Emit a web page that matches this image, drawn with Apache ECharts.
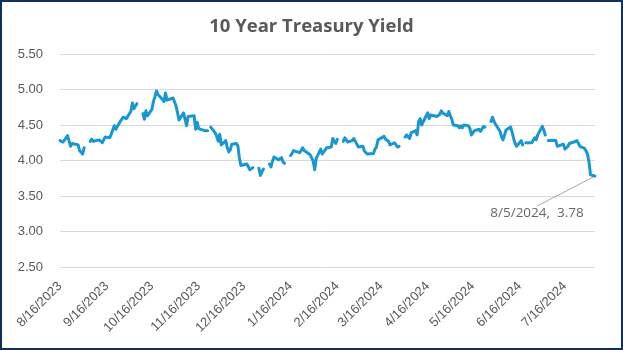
<!DOCTYPE html>
<html>
<head>
<meta charset="utf-8">
<script src="https://cdn.jsdelivr.net/npm/echarts@6/dist/echarts.min.js"></script>
<style>
  html, body { margin: 0; padding: 0; background: #ffffff; }
  #wrap { position: relative; width: 623px; height: 350px; }
  #chart { position: absolute; left: 0; top: 0; width: 623px; height: 350px; }
  #frame { position: absolute; left: 0; top: 0; width: 623px; height: 350px;
           box-sizing: border-box; border: 2px solid #112f5e; pointer-events: none; }
</style>
</head>
<body>
<div id="wrap"><div id="chart"></div><div id="frame"></div></div>
<script>
// Trading days (weekdays); market holidays carry a null yield so the line breaks there.
const tradeDates = [
  '2023-08-16','2023-08-17','2023-08-18','2023-08-21','2023-08-22','2023-08-23','2023-08-24','2023-08-25',
  '2023-08-28','2023-08-29','2023-08-30','2023-08-31','2023-09-01',
  '2023-09-04','2023-09-05','2023-09-06','2023-09-07','2023-09-08','2023-09-11','2023-09-12','2023-09-13',
  '2023-09-14','2023-09-15','2023-09-18','2023-09-19','2023-09-20','2023-09-21','2023-09-22','2023-09-25',
  '2023-09-26','2023-09-27','2023-09-28','2023-09-29',
  '2023-10-02','2023-10-03','2023-10-04','2023-10-05','2023-10-06','2023-10-09','2023-10-10','2023-10-11',
  '2023-10-12','2023-10-13','2023-10-16','2023-10-17','2023-10-18','2023-10-19','2023-10-20','2023-10-23',
  '2023-10-24','2023-10-25','2023-10-26','2023-10-27','2023-10-30','2023-10-31',
  '2023-11-01','2023-11-02','2023-11-03','2023-11-06','2023-11-07','2023-11-08','2023-11-09','2023-11-10',
  '2023-11-13','2023-11-14','2023-11-15','2023-11-16','2023-11-17','2023-11-20','2023-11-21','2023-11-22',
  '2023-11-23','2023-11-24','2023-11-27','2023-11-28','2023-11-29','2023-11-30',
  '2023-12-01','2023-12-04','2023-12-05','2023-12-06','2023-12-07','2023-12-08','2023-12-11','2023-12-12',
  '2023-12-13','2023-12-14','2023-12-15','2023-12-18','2023-12-19','2023-12-20','2023-12-21','2023-12-22',
  '2023-12-25','2023-12-26','2023-12-27','2023-12-28','2023-12-29',
  '2024-01-01','2024-01-02','2024-01-03','2024-01-04','2024-01-05','2024-01-08','2024-01-09','2024-01-10',
  '2024-01-11','2024-01-12','2024-01-15','2024-01-16','2024-01-17','2024-01-18','2024-01-19','2024-01-22',
  '2024-01-23','2024-01-24','2024-01-25','2024-01-26','2024-01-29','2024-01-30','2024-01-31',
  '2024-02-01','2024-02-02','2024-02-05','2024-02-06','2024-02-07','2024-02-08','2024-02-09','2024-02-12',
  '2024-02-13','2024-02-14','2024-02-15','2024-02-16','2024-02-19','2024-02-20','2024-02-21','2024-02-22',
  '2024-02-23','2024-02-26','2024-02-27','2024-02-28','2024-02-29',
  '2024-03-01','2024-03-04','2024-03-05','2024-03-06','2024-03-07','2024-03-08','2024-03-11','2024-03-12',
  '2024-03-13','2024-03-14','2024-03-15','2024-03-18','2024-03-19','2024-03-20','2024-03-21','2024-03-22',
  '2024-03-25','2024-03-26','2024-03-27','2024-03-28','2024-03-29',
  '2024-04-01','2024-04-02','2024-04-03','2024-04-04','2024-04-05','2024-04-08','2024-04-09','2024-04-10',
  '2024-04-11','2024-04-12','2024-04-15','2024-04-16','2024-04-17','2024-04-18','2024-04-19','2024-04-22',
  '2024-04-23','2024-04-24','2024-04-25','2024-04-26','2024-04-29','2024-04-30',
  '2024-05-01','2024-05-02','2024-05-03','2024-05-06','2024-05-07','2024-05-08','2024-05-09','2024-05-10',
  '2024-05-13','2024-05-14','2024-05-15','2024-05-16','2024-05-17','2024-05-20','2024-05-21','2024-05-22',
  '2024-05-23','2024-05-24','2024-05-27','2024-05-28','2024-05-29','2024-05-30','2024-05-31',
  '2024-06-03','2024-06-04','2024-06-05','2024-06-06','2024-06-07','2024-06-10','2024-06-11','2024-06-12',
  '2024-06-13','2024-06-14','2024-06-17','2024-06-18','2024-06-19','2024-06-20','2024-06-21','2024-06-24',
  '2024-06-25','2024-06-26','2024-06-27','2024-06-28',
  '2024-07-01','2024-07-02','2024-07-03','2024-07-04','2024-07-05','2024-07-08','2024-07-09','2024-07-10',
  '2024-07-11','2024-07-12','2024-07-15','2024-07-16','2024-07-17','2024-07-18','2024-07-19','2024-07-22',
  '2024-07-23','2024-07-24','2024-07-25','2024-07-26','2024-07-29','2024-07-30','2024-07-31',
  '2024-08-01','2024-08-02','2024-08-05'
];

// 10-year yield, percent (same order as tradeDates).
const yields = [
  4.28,4.30,4.26,4.35,4.33,4.20,4.24,4.25,
  4.22,4.14,4.12,4.09,4.18,
  null,4.27,4.30,4.27,4.26,4.29,4.28,4.25,
  4.29,4.33,4.32,4.37,4.35,4.49,4.44,4.55,
  4.56,4.61,4.59,4.59,
  4.69,4.81,4.73,4.72,4.80,null,4.66,4.58,
  4.70,4.63,4.72,4.83,4.90,4.98,4.93,4.86,
  4.83,4.95,4.85,4.84,4.88,4.88,
  4.77,4.67,4.57,4.67,4.58,4.49,4.62,4.61,
  4.63,4.44,4.54,4.45,4.44,4.42,4.41,4.42,
  null,4.47,4.39,4.34,4.27,4.37,
  4.22,4.28,4.18,4.12,4.15,4.23,4.24,4.21,
  4.04,3.93,3.91,3.95,3.93,3.87,3.89,3.90,
  null,3.89,3.79,3.84,3.88,
  null,3.95,3.91,3.99,4.05,4.01,4.02,4.04,
  3.98,3.96,null,4.07,4.10,4.14,4.15,4.11,
  4.14,4.18,4.14,4.15,4.08,4.06,3.99,
  3.87,4.03,4.16,4.09,4.12,4.15,4.18,4.19,
  4.31,4.27,4.24,4.30,null,4.27,4.32,4.33,
  4.26,4.28,4.31,4.27,4.25,
  4.19,4.20,4.13,4.11,4.09,4.09,4.10,4.16,
  4.19,4.29,4.31,4.34,4.30,4.28,4.27,4.22,
  4.25,4.24,4.19,4.20,null,
  4.33,4.36,4.36,4.31,4.39,4.42,4.36,4.55,
  4.59,4.50,4.63,4.67,4.59,4.64,4.62,4.62,
  4.60,4.65,4.70,4.67,4.63,4.69,
  4.63,4.58,4.50,4.49,4.46,4.49,4.46,4.50,
  4.49,4.45,4.36,4.38,4.42,4.44,4.41,4.43,
  4.48,4.47,null,4.55,4.61,4.55,4.51,
  4.41,4.33,4.29,4.29,4.43,4.47,4.40,4.31,
  4.24,4.20,4.28,4.22,null,4.25,4.26,4.25,
  4.23,4.32,4.29,4.36,
  4.48,4.43,4.36,null,4.28,4.28,4.30,4.28,
  4.20,4.20,4.23,4.16,4.16,4.20,4.24,4.26,
  4.25,4.28,4.26,4.20,4.17,4.14,4.09,
  3.98,3.80,3.78
];

// Monthly date ticks along the bottom axis.
const tickDates = [
  '2023-08-16','2023-09-16','2023-10-16','2023-11-16','2023-12-16','2024-01-16',
  '2024-02-16','2024-03-16','2024-04-16','2024-05-16','2024-06-16','2024-07-16'
];

// Value axis ticks.
const yTickValues = [2.5, 3.0, 3.5, 4.0, 4.5, 5.0, 5.5];

const chartTitle = '10 Year Treasury Yield';

function toTime(s) {
  const p = s.split('-').map(Number);
  return new Date(p[0], p[1] - 1, p[2]).getTime();
}
function fmtDate(t) {
  const d = new Date(t);
  return (d.getMonth() + 1) + '/' + d.getDate() + '/' + d.getFullYear();
}

const times = tradeDates.map(toTime);
const lineData = times.map((t, i) => [t, yields[i] == null ? '-' : yields[i]]);

let lastIdx = yields.length - 1;
while (lastIdx > 0 && yields[lastIdx] == null) lastIdx--;
const lastPoint = [times[lastIdx], yields[lastIdx]];

const AXIS_FONT = 'Liberation Sans, Arial, sans-serif';
const TEXT_FONT = 'Open Sans, Liberation Sans, sans-serif';

const chart = echarts.init(document.getElementById('chart'), null, { renderer: 'canvas' });
chart.setOption({
  animation: false,
  backgroundColor: '#ffffff',
  title: {
    text: chartTitle,
    left: 'center',
    top: 12,
    textStyle: { fontFamily: TEXT_FONT, fontSize: 18.5, fontWeight: 'bold', color: '#595959' }
  },
  grid: { left: 60, right: 28, top: 54, bottom: 83 },
  xAxis: {
    type: 'value',
    min: times[0],
    max: times[times.length - 1],
    axisLine: { show: false },
    axisTick: { show: false },
    splitLine: { show: false },
    axisLabel: {
      customValues: tickDates.map(toTime),
      formatter: (v) => fmtDate(v),
      rotate: 45,
      margin: 17,
      fontFamily: AXIS_FONT,
      fontSize: 13,
      color: '#595959',
      hideOverlap: false
    }
  },
  yAxis: {
    type: 'value',
    min: yTickValues[0],
    max: yTickValues[yTickValues.length - 1],
    interval: yTickValues[1] - yTickValues[0],
    axisLine: { show: false },
    axisTick: { show: false },
    splitLine: { lineStyle: { color: '#d9d9d9', width: 1 } },
    axisLabel: {
      formatter: (v) => v.toFixed(2),
      margin: 17,
      fontFamily: AXIS_FONT,
      fontSize: 13,
      color: '#595959'
    }
  },
  series: [
    {
      name: '10Y',
      type: 'line',
      data: lineData,
      showSymbol: false,
      symbol: 'none',
      connectNulls: false,
      lineStyle: { color: '#1897d1', width: 3, join: 'round', cap: 'round' },
      z: 3
    },
    {
      name: 'last',
      type: 'scatter',
      data: [lastPoint],
      symbolSize: 2,
      silent: true,
      itemStyle: { color: 'rgba(0,0,0,0)' },
      label: {
        show: true,
        position: 'inside',
        // value text on the first line, an empty spacer line beneath it so the
        // leader line attaches to the top edge of the text
        formatter: (p) => '{t|' + fmtDate(p.value[0]) + ',  ' + p.value[1].toFixed(2) + '}\n{s|}',
        rich: {
          t: { fontFamily: TEXT_FONT, fontSize: 13.5, lineHeight: 16, color: '#404040' },
          s: { height: 80, lineHeight: 80 }
        }
      },
      labelLayout: { dx: -58, dy: 77 },
      labelLine: { show: true, lineStyle: { color: '#a6a6a6', width: 1 } },
      z: 2
    }
  ]
});
</script>
</body>
</html>
